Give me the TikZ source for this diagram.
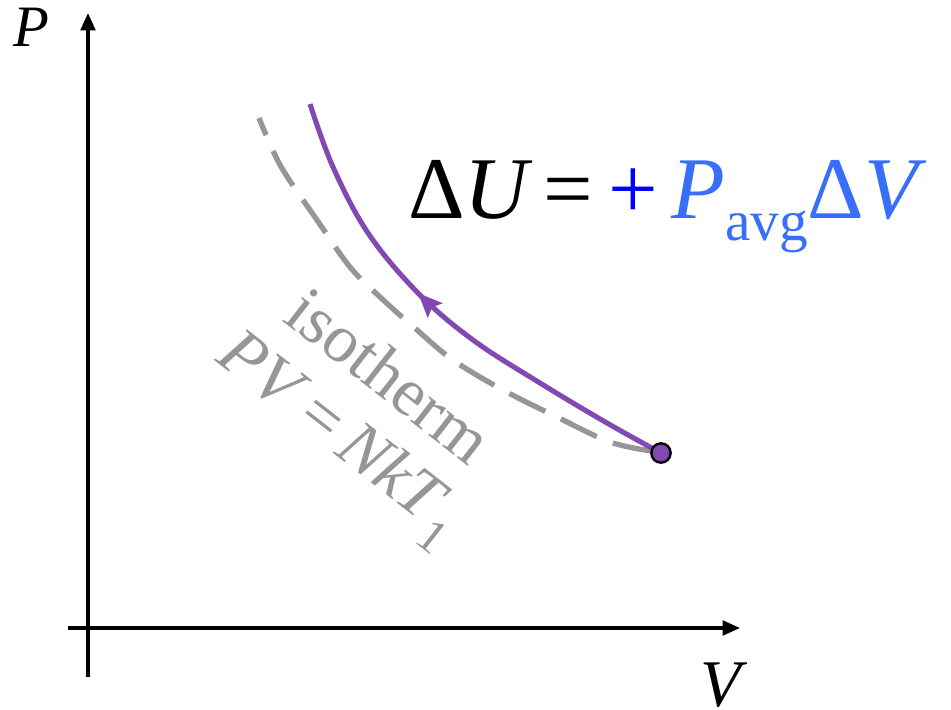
\documentclass[tikz,border=0pt]{standalone}
\usepackage{fontspec}
\setmainfont{Liberation Serif}
\usetikzlibrary{arrows.meta,decorations.markings}
\definecolor{purp}{RGB}{130,72,180}
\definecolor{isogray}{RGB}{150,150,150}
\definecolor{lblue}{RGB}{55,110,250}
\definecolor{pblue}{RGB}{0,0,255}
\begin{document}
\begin{tikzpicture}[x=0.75pt,y=-0.75pt,
  axis/.style={line width=2.4pt,-{Triangle[length=13pt,width=11pt]}},
  bigeq/.style={anchor=base west,inner sep=0pt,font=\fontsize{66}{66}\selectfont},
  isolabel/.style={rotate=-38,isogray,inner sep=0pt,font=\fontsize{51}{51}\selectfont}]
\useasboundingbox (0,0) rectangle (951,710);
% axes
\coordinate (vb) at (88,677); \coordinate (vt) at (88,13);
\coordinate (hl) at (68,628); \coordinate (hr) at (740,628);
\draw[axis] (vb) -- (vt);
\draw[axis] (hl) -- (hr);
\node[anchor=base west,inner sep=0pt,font=\fontsize{44}{44}\selectfont\itshape] (plab) at (13,47) {P};
\node[anchor=base west,inner sep=0pt,font=\fontsize{50}{50}\selectfont\itshape] (vlab) at (700,706) {V};
% isotherm (dashed)
\draw[isogray,line width=4pt,dash pattern=on 30pt off 13pt]
  plot[smooth,tension=0.6] coordinates {(652,451) (610,442) (557,417) (503,390) (453,360) (417,330) (380,297) (350,267) (317,220) (283,170) (267,137) (259,118)};
% process curve
\draw[purp,line width=3.8pt,postaction={decorate},
  decoration={markings,mark=at position 0.57 with {\arrow{Stealth[length=18pt,width=15pt,inset=3pt]}}}]
  plot[smooth,tension=0.6] coordinates {(661,453) (607,423) (540,383) (473,340) (418,293) (368,233) (333,167) (310,104)};
\node[circle,fill=purp,draw=black,line width=1.8pt,minimum size=14.5pt,inner sep=0pt] (dot) at (661,453) {};
% isotherm labels
\node[isolabel] (iso1) at (390,375) {isotherm};
\node[isolabel] (iso2) at (338,440) {\textit{PV}\,=\,\textit{NkT}\raisebox{-0.3em}{\fontsize{36}{36}\selectfont 1}};
% equation
\node[bigeq] (eqa) at (408,219) {Δ\textit{U}};
\node[bigeq] (eqb) at (543,219) {=};
\node[bigeq,text=pblue] (eqc) at (608,219) {+};
\node[bigeq,text=lblue] (eqd) at (671,219) {\textit{P}\raisebox{-16pt}{\fontsize{43}{43}\selectfont avg}Δ\textit{V}};
\end{tikzpicture}
\end{document}
